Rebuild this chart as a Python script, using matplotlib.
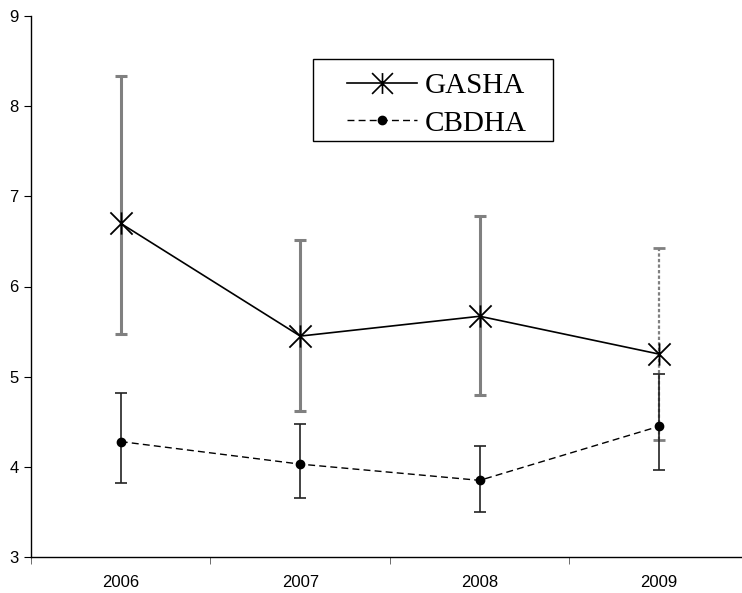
import matplotlib
matplotlib.use("Agg")
import matplotlib.pyplot as plt
from matplotlib.lines import Line2D
from matplotlib.patches import Rectangle
from matplotlib.path import Path
import numpy as np

years = ["2006", "2007", "2008", "2009"]
gasha = [6.70, 5.45, 5.67, 5.25]
gasha_hi = [8.33, 6.52, 6.78, 6.43]
gasha_lo = [5.47, 4.62, 4.80, 4.30]
cbdha = [4.28, 4.03, 3.85, 4.45]
cbdha_hi = [4.82, 4.47, 4.23, 5.03]
cbdha_lo = [3.82, 3.65, 3.50, 3.96]

# asterisk marker: X plus vertical bar
star = Path([(-1, -1), (1, 1), (-1, 1), (1, -1), (0, -1), (0, 1)],
            [Path.MOVETO, Path.LINETO, Path.MOVETO, Path.LINETO,
             Path.MOVETO, Path.LINETO])

W, H = 742, 593
fig = plt.figure(figsize=(W / 100, H / 100), dpi=100)
ax = fig.add_axes([31 / W, 1 - 557 / H, 718 / W, 541 / H])

x = np.arange(len(years))
g = np.array(gasha); c = np.array(cbdha)
gerr = [g - np.array(gasha_lo), np.array(gasha_hi) - g]
cerr = [c - np.array(cbdha_lo), np.array(cbdha_hi) - c]

# GASHA error bars (gray), first three solid, last one lighter/dotted
ax.errorbar(x[:3], g[:3], yerr=[gerr[0][:3], gerr[1][:3]], fmt='none',
            ecolor='#808080', elinewidth=2.2, capsize=4.5, capthick=2.2, zorder=1)
eb = ax.errorbar(x[3:], g[3:], yerr=[gerr[0][3:], gerr[1][3:]], fmt='none',
                 ecolor='#808080', elinewidth=1.6, capsize=4.5, capthick=2.0, zorder=1)
eb[2][0].set_linestyle((0, (1.5, 1)))

# CBDHA error bars (black)
ax.errorbar(x, c, yerr=cerr, fmt='none', ecolor='#222222', elinewidth=1.2,
            capsize=4.5, capthick=1.2, zorder=2)

ax.plot(x, g, color='black', lw=1.2, marker=star, markersize=16,
        markeredgewidth=1.3, fillstyle='none', zorder=3)
ax.plot(x, c, color='black', lw=1.0, dashes=(5, 3), marker='o', markersize=6,
        zorder=3)

ax.set_xlim(-0.5, 3.5)
ax.set_ylim(3, 9)
ax.set_yticks(range(3, 10))
ax.set_xticks(x)
ax.set_xticklabels(years)
ax.set_xticks(np.arange(-0.5, 4.0, 1.0), minor=True)
ax.tick_params(axis='x', which='major', length=0, pad=13, labelsize=12)
ax.tick_params(axis='x', which='minor', length=5, color='#555555', direction='out')
ax.tick_params(axis='y', length=5, direction='out', labelsize=12, pad=4)
for lab in ax.get_xticklabels() + ax.get_yticklabels():
    lab.set_fontfamily(['Liberation Sans', 'DejaVu Sans'])
ax.spines['top'].set_visible(False)
ax.spines['right'].set_visible(False)
ax.spines['left'].set_linewidth(1.0)
ax.spines['bottom'].set_linewidth(1.0)

# Legend box
fig.patches.append(Rectangle((313 / W, 1 - 141 / H), 240 / W, 82 / H,
                             transform=fig.transFigure, fill=False,
                             edgecolor='black', lw=1.0))
h1 = Line2D([], [], color='black', lw=1.2, marker=star, markersize=15,
            markeredgewidth=1.2, fillstyle='none')
h2 = Line2D([], [], color='black', lw=1.0, dashes=(5, 3), marker='o', markersize=6)
fig.legend([h1, h2], ["GASHA", "CBDHA"], loc='upper left',
           bbox_to_anchor=(347 / W, 1 - 73 / H), bbox_transform=fig.transFigure,
           frameon=False, borderpad=0, borderaxespad=0, handlelength=2.4,
           handletextpad=0.27, labelspacing=0.37, numpoints=1,
           prop={'family': 'Liberation Serif', 'size': 21})

fig.savefig("out.png", dpi=100)
